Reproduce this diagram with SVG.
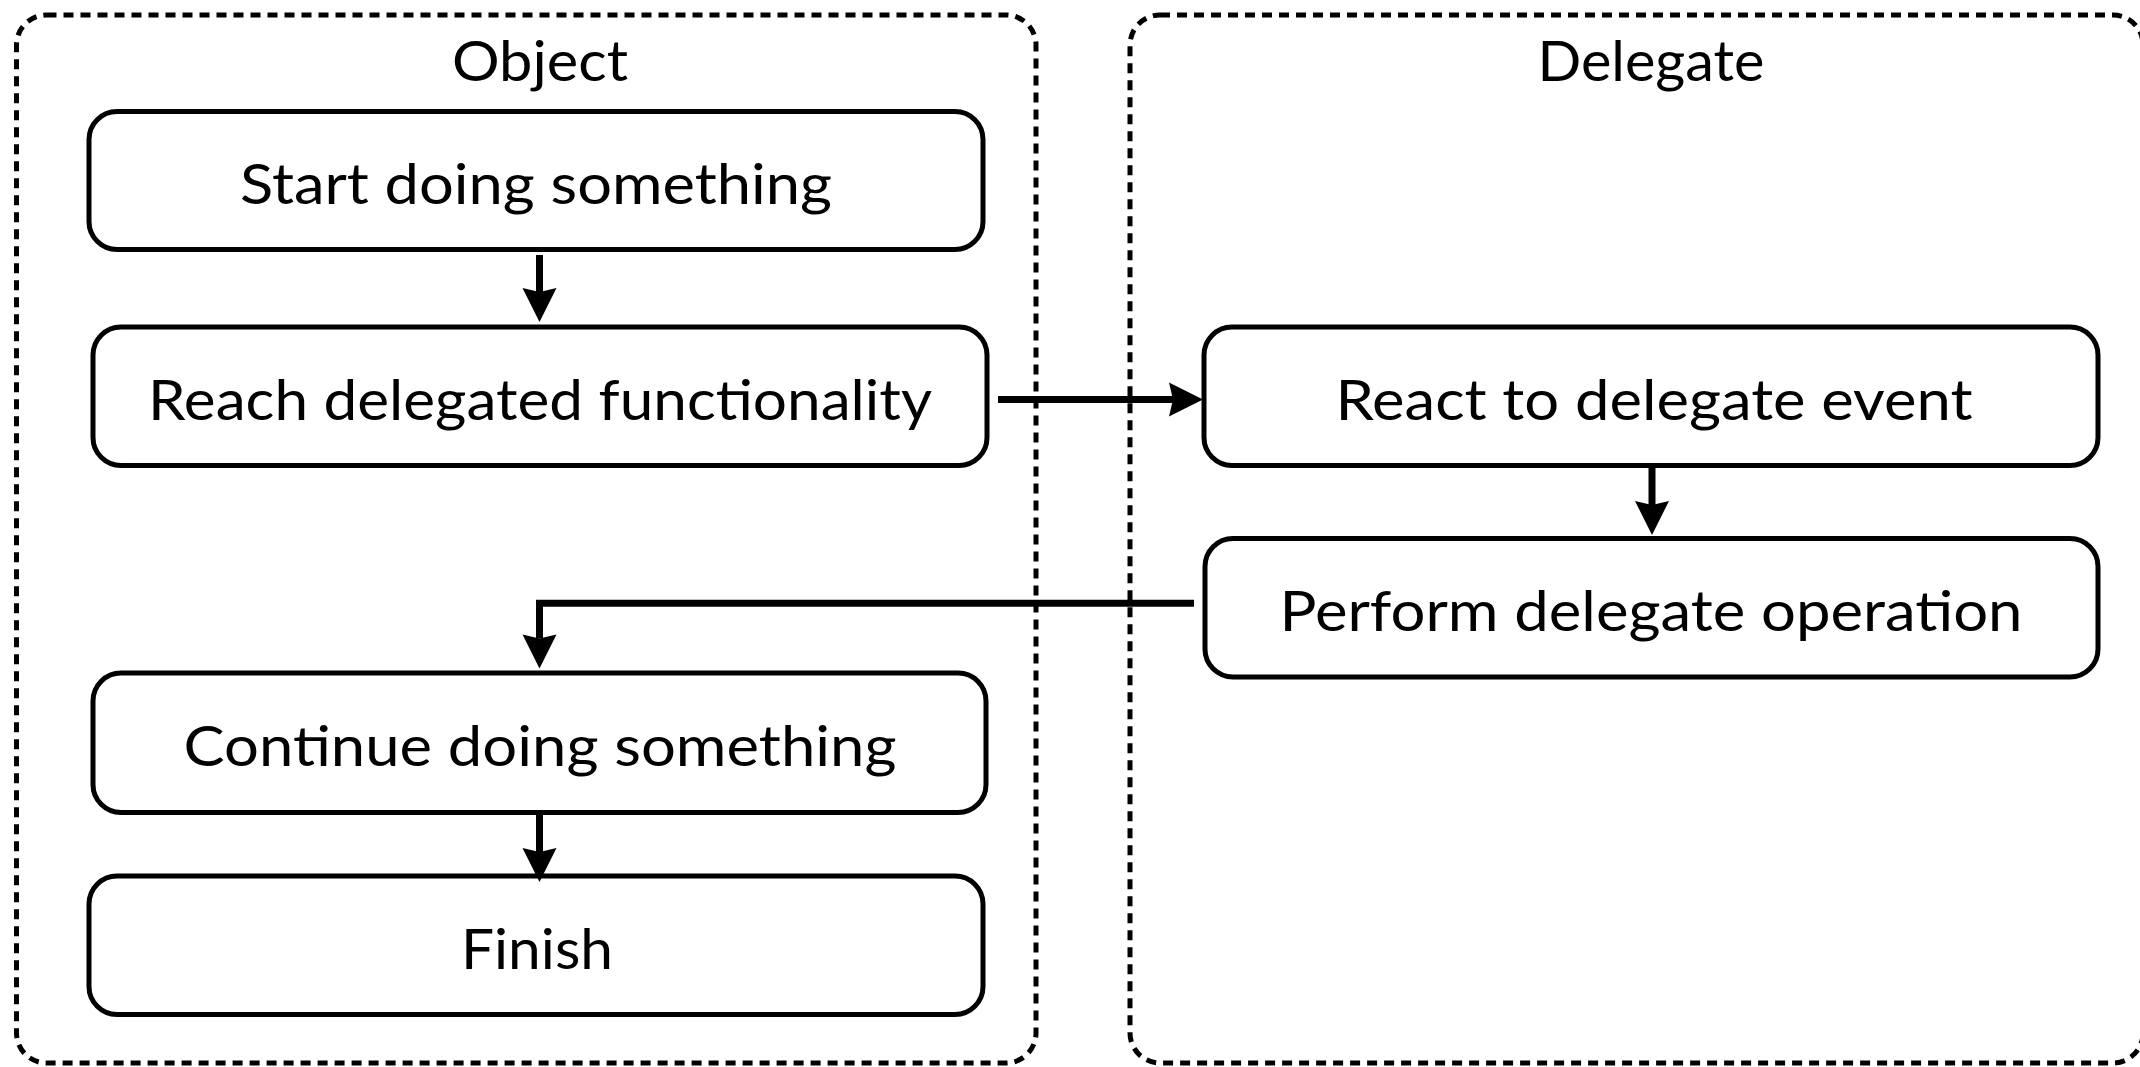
<svg xmlns="http://www.w3.org/2000/svg" width="2140" height="1067" viewBox="0 0 2140 1067">
  <style>
    .container { fill: none; stroke: #000; stroke-width: 5; stroke-dasharray: 10 7; }
    .node rect { fill: #fff; stroke: #000; stroke-width: 5; }
    text { font-family: "Lato", "Open Sans", "Liberation Sans", sans-serif; font-size: 56px; fill: #000; text-anchor: middle; }
    .conn { fill: none; stroke: #000; stroke-width: 7; }
  </style>
  <defs>
    <marker id="arrow" markerUnits="userSpaceOnUse" viewBox="-5 -18 36 36" refX="0" refY="0" markerWidth="36" markerHeight="36" orient="auto" overflow="visible">
      <path d="M30,0 L-4,-17 L0,0 L-4,17 Z" fill="#000"/>
    </marker>
  </defs>
  <rect width="2140" height="1067" fill="#fff"/>

  <g id="container-object">
    <rect class="container" x="16.5" y="15" width="1019.5" height="1048" rx="30" ry="30"/>
    <text x="540" y="81" textLength="176" lengthAdjust="spacingAndGlyphs">Object</text>
  </g>
  <g id="container-delegate">
    <rect class="container" x="1130" y="15" width="1013" height="1048" rx="30" ry="30"/>
    <text x="1651" y="81" textLength="227" lengthAdjust="spacingAndGlyphs">Delegate</text>
  </g>

  <g id="node-start" class="node">
    <rect x="89" y="111.5" width="894" height="138" rx="28" ry="28"/>
    <text x="536" y="204" textLength="592" lengthAdjust="spacingAndGlyphs">Start doing something</text>
  </g>
  <g id="node-reach" class="node">
    <rect x="93" y="327" width="894" height="138.5" rx="28" ry="28"/>
    <text x="540" y="419.5" textLength="784" lengthAdjust="spacingAndGlyphs">Reach delegated functionality</text>
  </g>
  <g id="node-continue" class="node">
    <rect x="93" y="673" width="893" height="139.5" rx="28" ry="28"/>
    <text x="540" y="766" textLength="713" lengthAdjust="spacingAndGlyphs">Continue doing something</text>
  </g>
  <g id="node-finish" class="node">
    <rect x="89" y="876" width="894" height="138.5" rx="28" ry="28"/>
    <text x="537" y="968.5" textLength="152" lengthAdjust="spacingAndGlyphs">Finish</text>
  </g>
  <g id="node-react" class="node">
    <rect x="1204" y="327" width="894" height="138.5" rx="28" ry="28"/>
    <text x="1654" y="419.5" textLength="637" lengthAdjust="spacingAndGlyphs">React to delegate event</text>
  </g>
  <g id="node-perform" class="node">
    <rect x="1205" y="538.5" width="893" height="138.5" rx="28" ry="28"/>
    <text x="1651" y="631" textLength="743" lengthAdjust="spacingAndGlyphs">Perform delegate operation</text>
  </g>

  <g id="connectors">
    <path class="conn" d="M539.5,255 V292" marker-end="url(#arrow)"/>
    <path class="conn" d="M998,399.5 H1173" marker-end="url(#arrow)"/>
    <path class="conn" d="M1652,468 V505" marker-end="url(#arrow)"/>
    <path class="conn" d="M1194,603.3 H539.5 V638.5" marker-end="url(#arrow)"/>
    <path class="conn" d="M539.5,815 V852" marker-end="url(#arrow)"/>
  </g>
</svg>
